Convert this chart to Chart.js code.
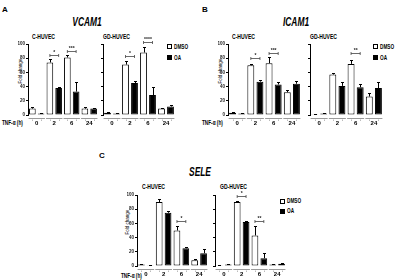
<!DOCTYPE html>
<html>
<head>
<meta charset="utf-8">
<script src="https://cdn.jsdelivr.net/npm/chart.js@4.4.1/dist/chart.umd.min.js"></script>
<style>
  html, body { margin: 0; padding: 0; background: #fff; }
  #fig { position: relative; width: 401px; height: 280px; overflow: hidden;
         font-family: "Liberation Sans", Arial, sans-serif; color: #000; }
  canvas { position: absolute; }
  .t { position: absolute; white-space: nowrap; font-weight: bold; line-height: 1; }
  .l { transform-origin: 0 50%; transform: translateY(-50%) scaleX(0.72); }
  .c { transform: translate(-50%, -50%) scaleX(0.7); }
  .main { font-size: 12px; font-style: italic; }
  .sub { font-size: 7px; }
  .leg { font-size: 6.5px; }
  .yt { position: absolute; white-space: nowrap; font-size: 4.5px; transform: translate(-50%, -50%) rotate(-90deg); }
  .sq { position: absolute; width: 3px; height: 3px; border: 1px solid #000; }
</style>
</head>
<body>
<div id="fig">
  <div class="t" style="left:2px;top:6px;font-size:8px">A</div>
  <div class="t" style="left:202px;top:6px;font-size:8px">B</div>
  <div class="t" style="left:99px;top:152px;font-size:8px">C</div>

  <div class="t c main" style="left:87px;top:22px">VCAM1</div>
  <div class="t c main" style="left:296px;top:22px">ICAM1</div>
  <div class="t c main" style="left:200px;top:172px">SELE</div>

  <div class="t l sub" style="left:32px;top:36px">C-HUVEC</div>
  <div class="t l sub" style="left:103px;top:36px">GD-HUVEC</div>
  <div class="t l sub" style="left:232px;top:36px">C-HUVEC</div>
  <div class="t l sub" style="left:310px;top:36px">GD-HUVEC</div>
  <div class="t l sub" style="left:142px;top:186px">C-HUVEC</div>
  <div class="t l sub" style="left:220px;top:186px">GD-HUVEC</div>

  <div class="yt" style="left:20px;top:71px">Fold change</div>
  <div class="yt" style="left:220px;top:71px">Fold change</div>
  <div class="yt" style="left:127px;top:222px">Fold change</div>

  <div class="t l leg" style="left:2px;top:123px">TNF-α (h)</div>
  <div class="t l leg" style="left:202px;top:123px">TNF-α (h)</div>
  <div class="t l leg" style="left:121px;top:276px">TNF-α (h)</div>

  <div class="sq" style="left:167px;top:44px"></div>
  <div class="t l leg" style="left:174px;top:46.5px">DMSO</div>
  <div class="sq" style="left:167px;top:55px;background:#000"></div>
  <div class="t l leg" style="left:174px;top:57.5px">OA</div>

  <div class="sq" style="left:373px;top:44px"></div>
  <div class="t l leg" style="left:380px;top:46.5px">DMSO</div>
  <div class="sq" style="left:373px;top:55px;background:#000"></div>
  <div class="t l leg" style="left:380px;top:57.5px">OA</div>

  <div class="sq" style="left:280px;top:198.5px"></div>
  <div class="t l leg" style="left:287px;top:201px">DMSO</div>
  <div class="sq" style="left:280px;top:208.5px;background:#000"></div>
  <div class="t l leg" style="left:287px;top:211px">OA</div>
</div>
<script>
// TNF-α time points (h)
const CATS = ['0', '2', '6', '24'];

// VCAM1, C-HUVEC
const vcamC_dmso = [9, 74, 81, 9];
const vcamC_dmsoErr = [2, 5, 3, 2];
const vcamC_oa = [2, 38, 33, 9];
const vcamC_oaErr = [0.5, 1.5, 14, 1];
const vcamC_sigY = [null, 85, 90, null];
const vcamC_sig = ['', '*', '***', ''];
// VCAM1, GD-HUVEC
const vcamG_dmso = [3, 71, 88, 9];
const vcamG_dmsoErr = [1, 5, 8, 0.5];
const vcamG_oa = [2, 45, 28, 12];
const vcamG_oaErr = [0.5, 3, 11, 1.5];
const vcamG_sigY = [null, 83, 103, null];
const vcamG_sig = ['', '*', '****', ''];

// ICAM1, C-HUVEC
const icamC_dmso = [3, 70, 73, 32];
const icamC_dmsoErr = [1, 1.5, 8, 3];
const icamC_oa = [2, 47, 43, 44];
const icamC_oaErr = [0.5, 2, 3, 4];
const icamC_sigY = [null, 80, 88, null];
const icamC_sig = ['', '*', '***', ''];
// ICAM1, GD-HUVEC
const icamG_dmso = [1, 57, 72, 26];
const icamG_dmsoErr = [0.5, 2, 6, 5];
const icamG_oa = [2, 41, 39, 38];
const icamG_oaErr = [0.5, 6, 4, 9];
const icamG_sigY = [null, null, 87, null];
const icamG_sig = ['', '', '**', ''];

// SELE, C-HUVEC
const seleC_dmso = [2, 90, 50, 8];
const seleC_dmsoErr = [1, 4, 6, 1.5];
const seleC_oa = [1, 75, 25, 18];
const seleC_oaErr = [0.5, 3, 2, 6];
const seleC_sigY = [null, null, 63, null];
const seleC_sig = ['', '', '*', ''];
// SELE, GD-HUVEC
const seleG_dmso = [1, 90, 43, 2];
const seleG_dmsoErr = [0.5, 2, 14, 0.5];
const seleG_oa = [2, 62, 11, 3];
const seleG_oaErr = [0.5, 2, 7, 1];
const seleG_sigY = [null, 99, 63, null];
const seleG_sig = ['', '*', '**', ''];

Chart.defaults.font.family = '"Liberation Sans", Arial, sans-serif';
Chart.defaults.color = '#000';

// upward error bars with caps
const errorBars = {
  id: 'errorBars',
  afterDatasetsDraw(chart) {
    const { ctx, scales: { y } } = chart;
    ctx.save();
    ctx.strokeStyle = '#000';
    ctx.lineWidth = 1;
    chart.data.datasets.forEach((ds, i) => {
      chart.getDatasetMeta(i).data.forEach((bar, j) => {
        const top = Math.round(y.getPixelForValue(ds.data[j] + ds.errors[j])) + 0.5;
        const x = Math.round(bar.x) + 0.5;
        ctx.beginPath();
        ctx.moveTo(x, bar.y);
        ctx.lineTo(x, top);
        ctx.moveTo(x - 1.5, top);
        ctx.lineTo(x + 1.5, top);
        ctx.stroke();
      });
    });
    ctx.restore();
  },
};

// significance brackets between DMSO and OA of one time point
const sigBrackets = {
  id: 'sigBrackets',
  afterDraw(chart, args, opts) {
    const { ctx, scales: { y } } = chart;
    const a = chart.getDatasetMeta(0).data, b = chart.getDatasetMeta(1).data;
    ctx.save();
    ctx.strokeStyle = '#444';
    ctx.fillStyle = '#222';
    ctx.lineWidth = 0.8;
    ctx.font = 'bold 5px "Liberation Sans", Arial';
    ctx.textAlign = 'center';
    ctx.textBaseline = 'bottom';
    (opts.ys || []).forEach((v, j) => {
      if (v == null) return;
      const py = Math.round(y.getPixelForValue(v)) + 0.5;
      const x1 = a[j].x, x2 = b[j].x;
      ctx.beginPath();
      ctx.moveTo(x1, py - 1.5); ctx.lineTo(x1, py + 1.5);
      ctx.moveTo(x1, py); ctx.lineTo(x2, py);
      ctx.moveTo(x2, py - 1.5); ctx.lineTo(x2, py + 1.5);
      ctx.stroke();
      ctx.fillText(opts.labels[j], (x1 + x2) / 2, py);
    });
    ctx.restore();
  },
};

// grey line under each pair of bars, small marks, then the time-point label
const groupLines = {
  id: 'groupLines',
  afterDraw(chart) {
    const { ctx, chartArea, scales: { x } } = chart;
    const a = chart.getDatasetMeta(0).data, b = chart.getDatasetMeta(1).data;
    const yy = Math.round(chartArea.bottom) + 3.5;
    ctx.save();
    ctx.lineWidth = 1;
    a.forEach((bar, j) => {
      ctx.strokeStyle = '#9a9a9a';
      ctx.beginPath();
      ctx.moveTo(a[j].x - a[j].width / 2 - 0.5, yy);
      ctx.lineTo(b[j].x + b[j].width / 2 + 0.5, yy);
      ctx.stroke();
      ctx.strokeStyle = '#bbb';
      [a[j].x, b[j].x].forEach(px => {
        ctx.beginPath();
        ctx.moveTo(Math.round(px) + 0.5, yy + 1);
        ctx.lineTo(Math.round(px) + 0.5, yy + 2.5);
        ctx.stroke();
      });
    });
    ctx.fillStyle = '#000';
    ctx.font = 'bold 6px "Liberation Sans", Arial';
    ctx.textAlign = 'center';
    ctx.textBaseline = 'middle';
    chart.data.labels.forEach((lab, j) => {
      ctx.fillText(lab, x.getPixelForValue(j), chartArea.bottom + 8.5);
    });
    ctx.restore();
  },
};

const fig = document.getElementById('fig');

// box = canvas [left, top, width, height]; area = plot [left, top, right, bottom]
function panel(box, area, d, showTicks) {
  const [x0, y0, w, h] = box;
  const [L, T, R, B] = area;
  const WY = showTicks ? 10 : 3, HX = 13;
  const cv = document.createElement('canvas');
  cv.width = w; cv.height = h;
  cv.style.left = x0 + 'px'; cv.style.top = y0 + 'px';
  fig.appendChild(cv);
  return new Chart(cv.getContext('2d'), {
    type: 'bar',
    data: {
      labels: CATS,
      datasets: [
        { label: 'DMSO', data: d.dmso, errors: d.dmsoErr, backgroundColor: '#fff', borderColor: '#000', borderWidth: 1, borderSkipped: false },
        { label: 'OA', data: d.oa, errors: d.oaErr, backgroundColor: '#000', borderColor: '#000', borderWidth: 1, borderSkipped: false },
      ],
    },
    options: {
      responsive: false, animation: false, events: [], devicePixelRatio: 1,
      categoryPercentage: 1, barPercentage: 0.76,
      layout: { padding: { left: L - x0 - WY, top: T - y0, right: x0 + w - R, bottom: y0 + h - B - HX } },
      plugins: {
        legend: { display: false },
        tooltip: { enabled: false },
        sigBrackets: { ys: d.sigY, labels: d.sig },
      },
      scales: {
        x: {
          grid: { display: false }, border: { display: false },
          ticks: { display: false },
          afterFit: s => { s.height = HX; },
        },
        y: {
          min: 0, max: 100,
          grid: { drawOnChartArea: false, drawTicks: true, tickLength: 2, color: '#000' },
          border: { display: true, color: '#000', width: 1 },
          ticks: { display: showTicks, stepSize: 20, font: { size: 4.5, weight: 'bold' }, padding: 1, color: '#222' },
          afterFit: s => { s.width = WY; },
        },
      },
    },
    plugins: [errorBars, sigBrackets, groupLines],
  });
}

panel([12, 34, 90, 96], [28, 44, 98, 115],
  { dmso: vcamC_dmso, dmsoErr: vcamC_dmsoErr, oa: vcamC_oa, oaErr: vcamC_oaErr, sigY: vcamC_sigY, sig: vcamC_sig }, true);
panel([99, 34, 101, 96], [103, 44, 175, 115],
  { dmso: vcamG_dmso, dmsoErr: vcamG_dmsoErr, oa: vcamG_oa, oaErr: vcamG_oaErr, sigY: vcamG_sigY, sig: vcamG_sig }, false);

panel([212, 34, 93, 96], [228, 44, 301, 115],
  { dmso: icamC_dmso, dmsoErr: icamC_dmsoErr, oa: icamC_oa, oaErr: icamC_oaErr, sigY: icamC_sigY, sig: icamC_sig }, true);
panel([306, 34, 95, 96], [310, 44, 383, 115],
  { dmso: icamG_dmso, dmsoErr: icamG_dmsoErr, oa: icamG_oa, oaErr: icamG_oaErr, sigY: icamG_sigY, sig: icamG_sig }, false);

panel([121, 185, 91, 95], [137, 195, 208, 266],
  { dmso: seleC_dmso, dmsoErr: seleC_dmsoErr, oa: seleC_oa, oaErr: seleC_oaErr, sigY: seleC_sigY, sig: seleC_sig }, true);
panel([211, 185, 120, 95], [215, 195, 286, 266],
  { dmso: seleG_dmso, dmsoErr: seleG_dmsoErr, oa: seleG_oa, oaErr: seleG_oaErr, sigY: seleG_sigY, sig: seleG_sig }, false);
</script>
</body>
</html>
